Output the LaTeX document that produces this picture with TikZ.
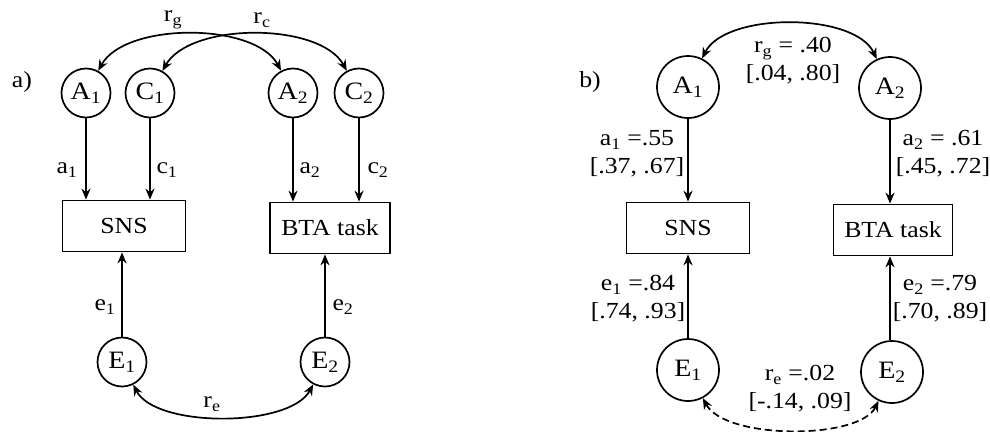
\documentclass[tikz,border=0pt]{standalone}
\usepackage{fontspec}
\setmainfont[FakeStretch=1.12]{Liberation Serif}
\usetikzlibrary{arrows.meta}
\begin{document}
\begin{tikzpicture}[x=1pt,y=-1pt,
  every node/.style={font=\fontsize{23}{28}\selectfont},
  lat/.style={draw,circle,line width=1.7pt,minimum size=49pt,inner sep=0pt,font=\fontsize{25}{28}\selectfont},
  latb/.style={draw,circle,line width=1.7pt,minimum size=62pt,inner sep=0pt,font=\fontsize{25}{28}\selectfont},
  obs/.style={draw,rectangle,line width=1.7pt,minimum width=123pt,minimum height=51pt,inner sep=0pt},
  lbl/.style={inner sep=0pt,align=center},
  path/.style={line width=1.7pt,-{Stealth[length=11pt,width=9pt]}},
  cov/.style={line width=1.7pt,{Stealth[length=11pt,width=9pt]}-{Stealth[length=11pt,width=9pt]}},
  covdash/.style={cov,dash pattern=on 7pt off 4pt},
]
\useasboundingbox (0,0) rectangle (990,431);
% ---------- panel a ----------
\node[lbl] (la) at (22,82) {a)};
\node[lat] (A1) at (86,93) {A\textsubscript{1}};
\node[lat] (C1) at (150,93) {C\textsubscript{1}};
\node[lat] (A2) at (293,93) {A\textsubscript{2}};
\node[lat] (C2) at (359,93) {C\textsubscript{2}};
\node[obs] (SNS) at (124,226) {SNS};
\node[obs,minimum width=120pt] (BTA) at (330,228) {BTA task};
\node[lat] (E1) at (122,362) {E\textsubscript{1}};
\node[lat] (E2) at (325,362) {E\textsubscript{2}};
\draw[path] (A1) -- (A1 |- SNS.north);
\draw[path] (C1) -- (C1 |- SNS.north);
\draw[path] (A2) -- (A2 |- BTA.north);
\draw[path] (C2) -- (C2 |- BTA.north);
\draw[path] (E1) -- (E1 |- SNS.south);
\draw[path] (E2) -- (E2 |- BTA.south);
\draw[cov] (A1) .. controls (125,22) and (255,22) .. (A2);
\draw[cov] (C1) .. controls (190,22) and (320,22) .. (C2);
\draw[cov] (E1) .. controls (155,428) and (290,428) .. (E2);
\node[lbl] (la1) at (67,170) {a\textsubscript{1}};
\node[lbl] (lc1) at (167,170) {c\textsubscript{1}};
\node[lbl] (la2) at (310,170) {a\textsubscript{2}};
\node[lbl] (lc2) at (378,170) {c\textsubscript{2}};
\node[lbl] (le1) at (105,307) {e\textsubscript{1}};
\node[lbl] (le2) at (343,307) {e\textsubscript{2}};
\node[lbl] (lrg) at (173,20) {r\textsubscript{g}};
\node[lbl] (lrc) at (262,20) {r\textsubscript{c}};
\node[lbl] (lre) at (212,404) {r\textsubscript{e}};
% ---------- panel b ----------
\node[lbl] (lb) at (590,82) {b)};
\node[latb] (bA1) at (688,87) {A\textsubscript{1}};
\node[latb] (bA2) at (890,88) {A\textsubscript{2}};
\node[obs] (bSNS) at (688,228) {SNS};
\node[obs,minimum width=119pt] (bBTA) at (893,230) {BTA task};
\node[latb] (bE1) at (688,370) {E\textsubscript{1}};
\node[latb] (bE2) at (892,372) {E\textsubscript{2}};
\draw[path] (bA1) -- (bA1 |- bSNS.north);
\draw[path] (bA2) -- (bA2 |- bBTA.north);
\draw[path] (bE1) -- (bE1 |- bSNS.south);
\draw[path] (bE2.north -| bA2) -- (bA2 |- bBTA.south);
\draw[cov] (bA1) .. controls (725,12) and (855,12) .. (bA2);
\draw[covdash] (bE1) .. controls (725,440) and (860,440) .. (bE2);
\node[lbl] (brg) at (793,61) {r\textsubscript{g} = .40\\{}[.04, .80]};
\node[lbl] (ba1) at (637,154) {a\textsubscript{1} =.55\\{}[.37, .67]};
\node[lbl] (ba2) at (943,154) {a\textsubscript{2} = .61\\{}[.45, .72]};
\node[lbl] (be1) at (638,299) {e\textsubscript{1} =.84\\{}[.74, .93]};
\node[lbl] (be2) at (940,299) {e\textsubscript{2} =.79\\{}[.70, .89]};
\node[lbl] (bre) at (800,389) {r\textsubscript{e} =.02\\{}[-.14, .09]};
\end{tikzpicture}
\end{document}
